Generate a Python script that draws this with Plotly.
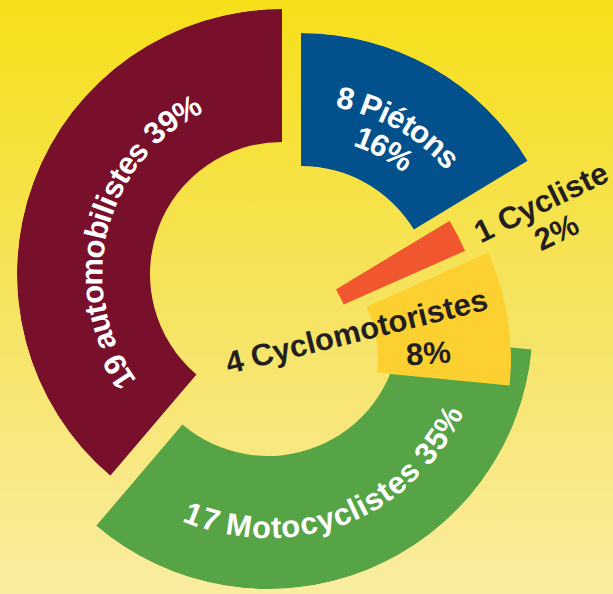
import base64
import math
import plotly.graph_objects as go

W, H = 613, 594

# data
categories = ["Piétons", "Cycliste", "Cyclomotoristes", "Motocyclistes", "automobilistes"]
counts = [8, 1, 4, 17, 19]
colors = ["#03518C", "#F0572F", "#FDD032", "#56A445", "#780F2B"]
label_colors = ["white", "#231F20", "#231F20", "white", "white"]

total = sum(counts)
pcts = [round(100 * c / total) for c in counts]
spans = [360 * c / total for c in counts]
starts = [sum(spans[:i]) for i in range(len(spans))]

# exploded layout: centre of each slice (px), ring radii (px)
centers = [(301, 298), (223, 358), (246, 360), (268, 324), (282, 274)]
R_IN, R_OUT = 132, 265
PAD = 0.6
draw_order = [4, 3, 0, 1, 2]

FONT = "Liberation Sans, Arial, sans-serif"
FS = 31
ADV = {" ": 278, "%": 889, "a": 556, "b": 611, "c": 556, "e": 556, "i": 278,
       "l": 278, "m": 889, "n": 611, "o": 611, "r": 389, "s": 556, "t": 333,
       "u": 611, "y": 556, "é": 556, "P": 667, "M": 833, "C": 722}


def sector_bbox(s0, s1):
    # same box plotly.js uses to fit a polar sector into its domain
    arc = s1 - s0
    a0 = s0 % 360
    a1 = a0 + arc
    ax0, ay0 = math.cos(math.radians(a0)), math.sin(math.radians(a0))
    ax1, ay1 = math.cos(math.radians(a1)), math.sin(math.radians(a1))
    if (a0 <= 90 and a1 >= 90) or (a0 > 90 and a1 >= 450):
        y1 = 1
    elif ay0 <= 0 and ay1 <= 0:
        y1 = 0
    else:
        y1 = max(ay0, ay1)
    if (a0 <= 180 and a1 >= 180) or (a0 > 180 and a1 >= 540):
        x0 = -1
    elif ax0 >= 0 and ax1 >= 0:
        x0 = 0
    else:
        x0 = min(ax0, ax1)
    if (a0 <= 270 and a1 >= 270) or (a0 > 270 and a1 >= 630):
        y0 = -1
    elif ay0 >= 0 and ay1 >= 0:
        y0 = 0
    else:
        y0 = min(ay0, ay1)
    if a1 >= 360:
        x1 = 1
    elif ax0 <= 0 and ax1 <= 0:
        x1 = 0
    else:
        x1 = max(ax0, ax1)
    return x0, y0, x1, y1


fig = go.Figure()
layout_polars = {}
for k, i in enumerate(draw_order):
    name = "polar" if k == 0 else f"polar{k + 1}"
    s, e = starts[i], starts[i] + spans[i]
    sector = [90 - e - PAD, 90 - s + PAD]
    bx0, by0, bx1, by1 = sector_bbox(*sector)
    cx, cy = centers[i]
    dom_x = [(cx + R_OUT * bx0) / W, (cx + R_OUT * bx1) / W]
    dom_y = [1 - (cy - R_OUT * by0) / H, 1 - (cy - R_OUT * by1) / H]
    fig.add_trace(go.Barpolar(
        r=[R_OUT - R_IN], base=[R_IN], theta=[s + spans[i] / 2], width=[spans[i]],
        marker=dict(color=colors[i], line=dict(width=0)),
        name=categories[i], subplot=name,
        hovertemplate=f"{categories[i]}: {counts[i]} ({pcts[i]}%)<extra></extra>"
    ))
    layout_polars[name] = dict(
        domain=dict(x=dom_x, y=dom_y), sector=sector, bgcolor="rgba(0,0,0,0)",
        radialaxis=dict(visible=False, range=[0, R_OUT]),
        angularaxis=dict(visible=False, rotation=90, direction="clockwise"),
    )

annotations = []


def arc_text(text, i, r, mid, outward, size=FS):
    cx, cy = centers[i]
    widths = [ADV.get(ch, 556) * size / 1000 for ch in text]
    span = math.degrees(sum(widths) / r)
    sign = 1 if outward else -1
    acc = 0
    for ch, w in zip(text, widths):
        phi = mid - sign * span / 2 + sign * math.degrees((acc + w / 2) / r)
        acc += w
        if ch == " ":
            continue
        x = cx + r * math.sin(math.radians(phi))
        y = cy - r * math.cos(math.radians(phi))
        ang = phi if outward else phi - 180
        ang = (ang + 180) % 360 - 180
        annotations.append(dict(
            x=x / W, y=1 - y / H, xref="paper", yref="paper", text=ch,
            showarrow=False, xanchor="center", yanchor="middle", textangle=ang,
            font=dict(family=FONT, size=size, color=label_colors[i], weight="bold")
        ))


def flat_text(text, i, x, y, angle, size=FS):
    annotations.append(dict(
        x=x / W, y=1 - y / H, xref="paper", yref="paper", text=text,
        showarrow=False, xanchor="center", yanchor="middle", textangle=angle,
        font=dict(family=FONT, size=size, color=label_colors[i], weight="bold")
    ))


arc_text(f"{counts[0]} {categories[0]}", 0, 204, 29.4, True)
arc_text(f"{pcts[0]}%", 0, 172, 29.0, True)
arc_text(f"{counts[4]} {categories[4]} {pcts[4]}%", 4, 190, 284, True)
arc_text(f"{counts[3]} {categories[3]} {pcts[3]}%", 3, 204, 159, False)
flat_text(f"{counts[1]} {categories[1]}", 1, 541, 203, -26)
flat_text(f"{pcts[1]}%", 1, 556, 232, -26)
flat_text(f"{counts[2]} {categories[2]}", 2, 356, 331, -14)
flat_text(f"{pcts[2]}%", 2, 428, 353, -4)

bg_svg = (
    f"<svg xmlns='http://www.w3.org/2000/svg' width='{W}' height='{H}'>"
    "<defs><linearGradient id='g' x1='0' y1='0' x2='0' y2='1'>"
    "<stop offset='0' stop-color='#F6E01A'/>"
    "<stop offset='0.5' stop-color='#F6E35E'/>"
    "<stop offset='1' stop-color='#FAEDA0'/>"
    "</linearGradient></defs>"
    f"<rect width='{W}' height='{H}' fill='url(#g)'/></svg>"
)
bg_src = "data:image/svg+xml;base64," + base64.b64encode(bg_svg.encode()).decode()

fig.update_layout(
    width=W, height=H, margin=dict(l=0, r=0, t=0, b=0),
    paper_bgcolor="#F6E35E", plot_bgcolor="rgba(0,0,0,0)",
    showlegend=False, annotations=annotations,
    images=[dict(source=bg_src, xref="paper", yref="paper", x=0, y=1,
                 sizex=1, sizey=1, xanchor="left", yanchor="top",
                 sizing="stretch", layer="below")],
    **layout_polars
)

# the page's default body margin would push the 613x594 figure off the window
fig.write_html("out.html", config={"displayModeBar": False},
               post_script="document.body.style.margin = '0';")
